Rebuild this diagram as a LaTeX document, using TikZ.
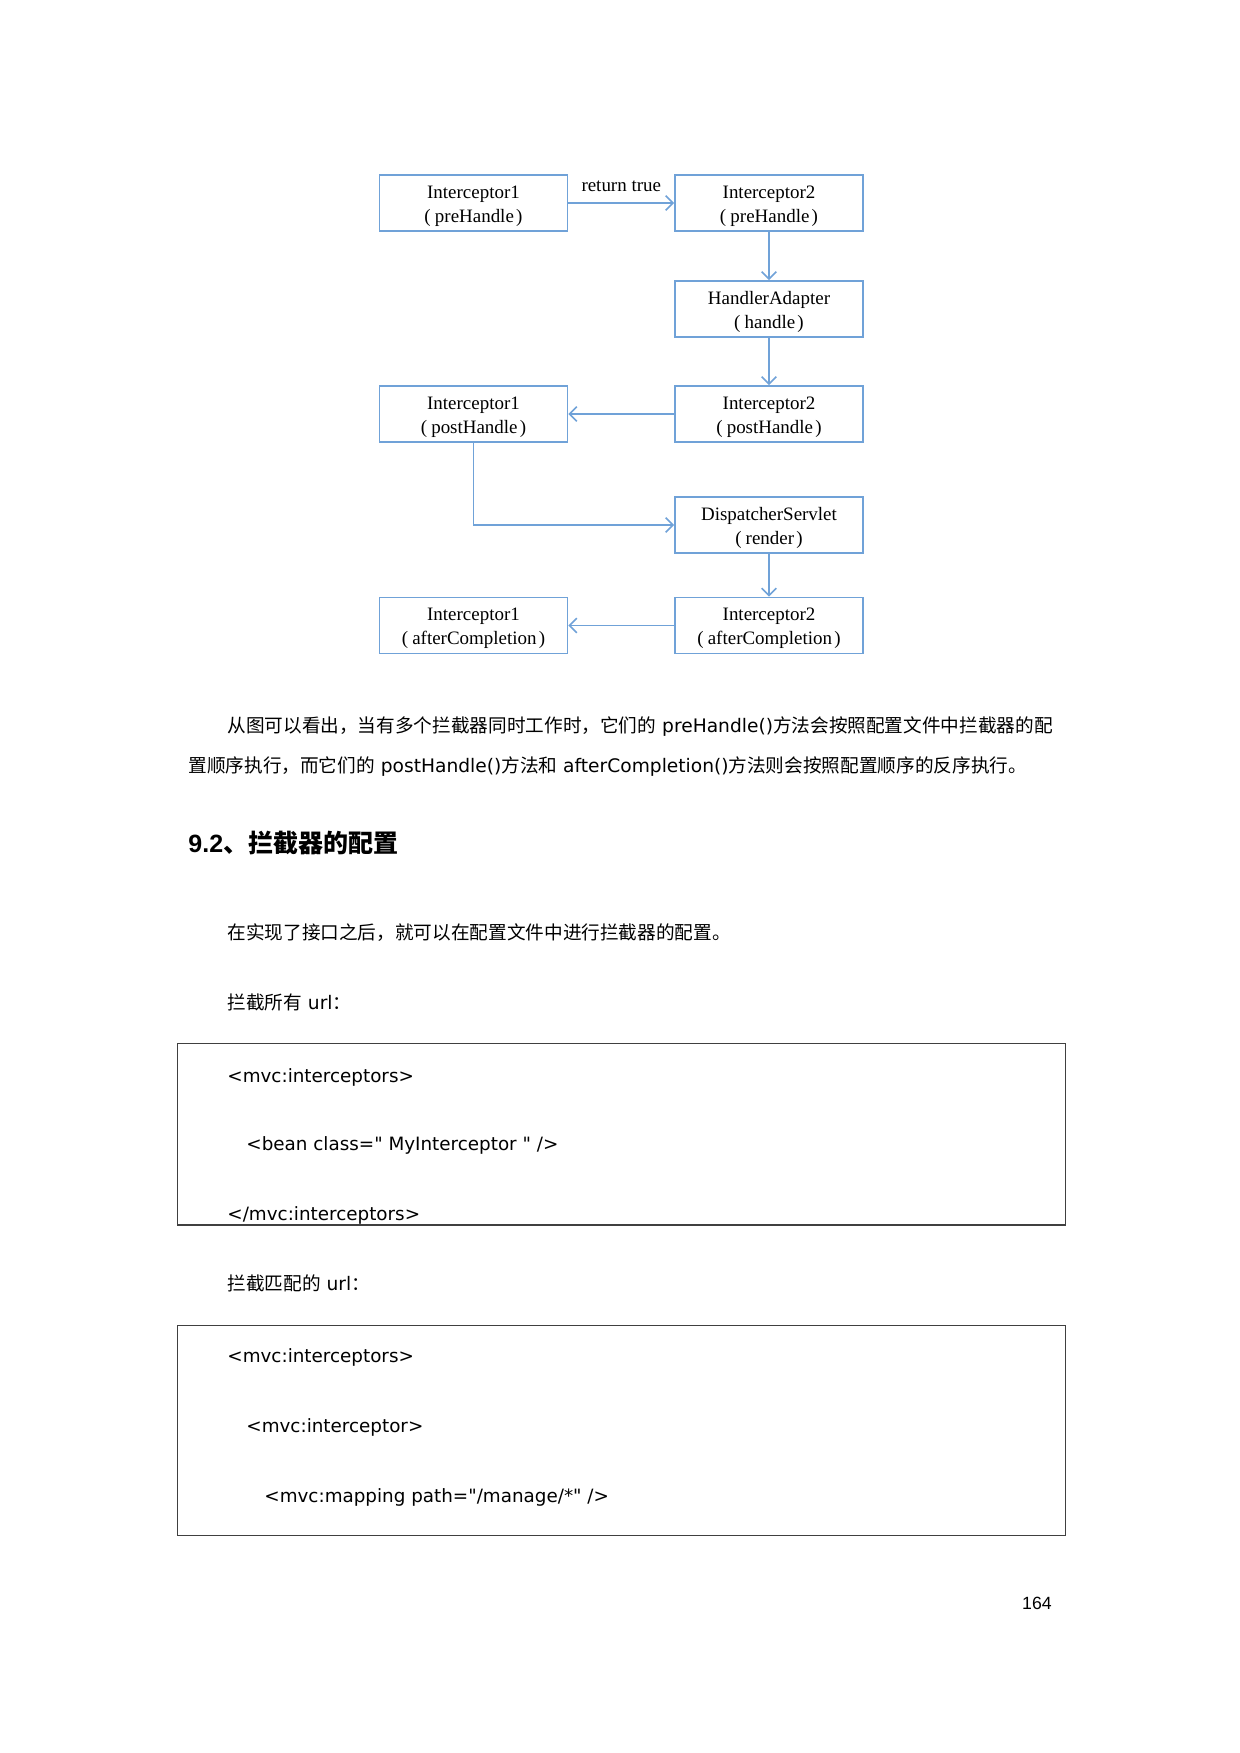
\documentclass[tikz,border=0pt]{standalone}
\usepackage{fontspec}
\setmainfont{DejaVu Sans}
\newfontfamily\cjk{Noto Sans CJK SC}
\newfontfamily\serifface{Liberation Serif}
\newfontfamily\arialface{Liberation Sans}
\font\codefnt="DejaVu Sans" at 8.8pt
\usetikzlibrary{arrows.meta}
\definecolor{boxblue}{RGB}{112,162,216}
\newcommand{\lp}{(\hspace{0.22em}}
\newcommand{\rp}{\hspace{0.12em})}
\newcommand{\tstrut}{\rule{0pt}{0.98em}}
\tikzset{
  flowbox/.style={draw=boxblue, line width=0.9pt, minimum width=90.2pt, minimum height=26.9pt,
    inner sep=0pt, align=center, font=\serifface\fontsize{9.1}{11.6}\selectfont},
  flowarrow/.style={draw=boxblue, line width=0.75pt, -{Straight Barb[length=3.5pt,width=7pt]}},
  bodytext/.style={anchor=west, inner sep=0pt, font=\fontsize{8.95}{11}\selectfont},
  codetext/.style={anchor=west, inner sep=0pt, font=\codefnt},
  codebox/.style={draw=black!75, line width=0.7pt, anchor=north west, inner sep=0pt},
}
\begin{document}
\begin{tikzpicture}[x=0.48pt,y=-0.48pt]
\useasboundingbox[fill=white] (0,0) rectangle (1240,1753);

% flow diagram
\node[flowbox] (i1pre) at (473.5,203) {\tstrut Interceptor1\\\lp preHandle\rp};
\node[flowbox] (i2pre) at (769,203) {\tstrut Interceptor2\\\lp preHandle\rp};
\node[flowbox] (ha) at (769,309) {\tstrut HandlerAdapter\\\lp handle\rp};
\node[flowbox] (i1post) at (473.5,414) {\tstrut Interceptor1\\\lp postHandle\rp};
\node[flowbox] (i2post) at (769,414) {\tstrut Interceptor2\\\lp postHandle\rp};
\node[flowbox] (ds) at (769,525) {\tstrut DispatcherServlet\\\lp render\rp};
\node[flowbox] (i1after) at (473.5,625.5) {\tstrut Interceptor1\\\lp afterCompletion\rp};
\node[flowbox] (i2after) at (769,625.5) {\tstrut Interceptor2\\\lp afterCompletion\rp};

\draw[flowarrow] (i1pre) -- node[above=5pt, inner sep=0pt, font=\serifface\fontsize{9.1}{10}\selectfont] (rt) {return true} (i2pre);
\draw[flowarrow] (i2pre) -- (ha);
\draw[flowarrow] (ha) -- (i2post);
\draw[flowarrow] (i2post) -- (i1post);
\draw[flowarrow] (i1post.south) |- (ds.west);
\draw[flowarrow] (ds) -- (i2after);
\draw[flowarrow] (i2after) -- (i1after);

% paragraph
\node[bodytext] (p1) at (227,727) {{\cjk 从图可以看出，当有多个拦截器同时工作时，它们的} preHandle(){\cjk 方法会按照配置文件中拦截器的配}};
\node[bodytext] (p2) at (188,767) {{\cjk 置顺序执行，而它们的} postHandle(){\cjk 方法和} afterCompletion(){\cjk 方法则会按照配置顺序的反序执行。}};

% heading
\node[anchor=west, inner sep=0pt, font=\bfseries\fontsize{12}{15}\selectfont] (head) at (188,843) {{\arialface 9.2}{\cjk 、拦截器的配置}};

\node[bodytext] (p3) at (227,933) {{\cjk 在实现了接口之后，就可以在配置文件中进行拦截器的配置。}};
\node[bodytext] (p4) at (227,1002) {{\cjk 拦截所有} url{\cjk ：}};

% code box 1
\node[codebox, minimum width=426.2pt, minimum height=86.9pt] (code1) at (177,1043) {};
\node[codetext] (c11) at (227,1077) {<mvc:interceptors>};
\node[codetext] (c12) at (246,1145) {<bean class=" MyInterceptor " />};
\node[codetext] (c13) at (227,1215) {</mvc:interceptors>};

\node[bodytext] (p5) at (227,1283) {{\cjk 拦截匹配的} url{\cjk ：}};

% code box 2
\node[codebox, minimum width=426.2pt, minimum height=100.8pt] (code2) at (177,1325) {};
\node[codetext] (c21) at (227,1357.5) {<mvc:interceptors>};
\node[codetext] (c22) at (246,1427.5) {<mvc:interceptor>};
\node[codetext] (c23) at (264,1497.5) {<mvc:mapping path="/manage/*" />};

% page number
\node[inner sep=0pt, font=\arialface\fontsize{8.5}{10}\selectfont] (pg) at (1037,1603) {164};
\end{tikzpicture}
\end{document}
